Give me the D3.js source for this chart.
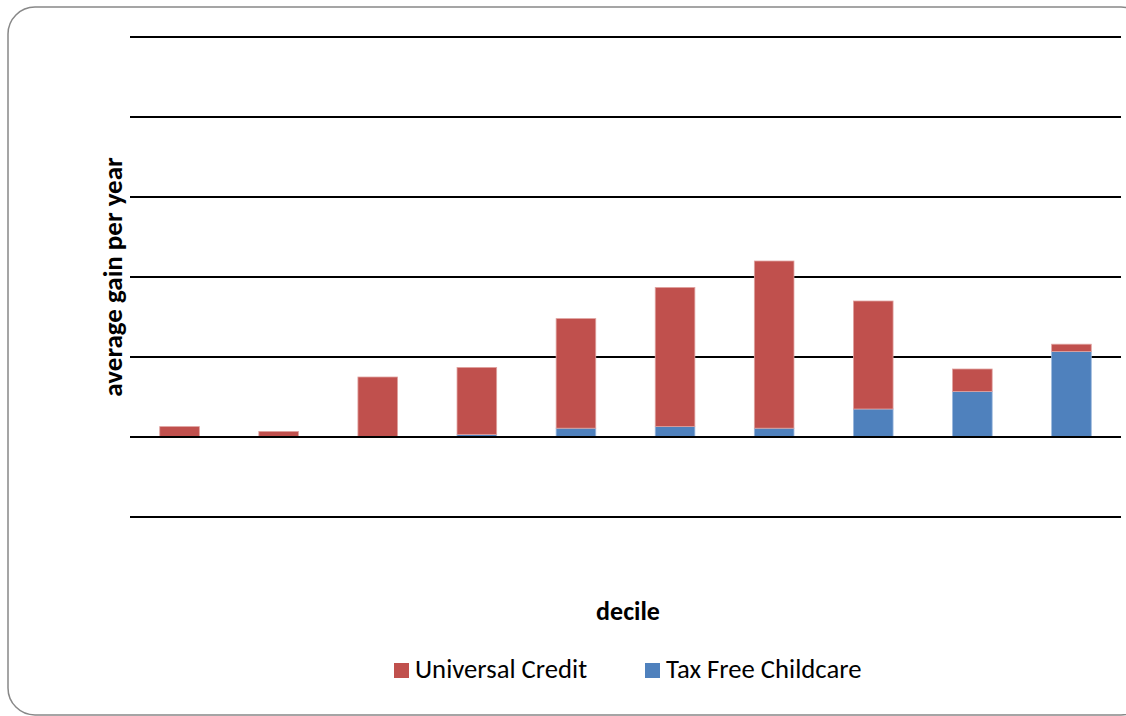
<!DOCTYPE html>
<html><head><meta charset="utf-8">
<script src="https://cdn.jsdelivr.net/npm/d3@7"></script>
<style>body{margin:0;background:#fff;}svg{display:block;}</style>
</head><body>
<script>
const categories = ["1","2","3","4","5","6","7","8","9","10"];
const universalCredit = [13, 7, 75, 84, 137, 174, 209, 135, 28, 9];
const taxFreeChildcare = [0, 0, 0, 3, 11, 13, 11, 35, 57, 107];
const yTicks = [-100, 0, 100, 200, 300, 400, 500];
const seriesNames = ["Universal Credit", "Tax Free Childcare"];

const W = 1126, H = 716;
const svg = d3.select("body").append("svg").attr("width", W).attr("height", H);

svg.append("rect").attr("x", 8).attr("y", 7).attr("width", 1140).attr("height", 708)
  .attr("rx", 27).attr("fill", "#fff").attr("stroke", "#888").attr("stroke-width", 1.5);

const x = d3.scaleBand().domain(categories).range([130, 1121]).paddingInner(0.6).paddingOuter(0.3);
const y = d3.scaleLinear().domain([-100, 500]).range([517, 37]);

svg.append("g").selectAll("line").data(yTicks).join("line")
  .attr("x1", 130).attr("x2", 1121)
  .attr("y1", d => Math.round(y(d))).attr("y2", d => Math.round(y(d)))
  .attr("stroke", "#000").attr("stroke-width", 2);

const rows = categories.map((c, i) => ({cat: c, tfc: taxFreeChildcare[i], uc: universalCredit[i]}));
const stack = d3.stack().keys(["tfc", "uc"])(rows);
const colors = {tfc: "#4F81BD", uc: "#C0504D"};
const edge = {tfc: "#9ab7dc", uc: "#e0a3a1"};

stack.forEach(layer => {
  svg.append("g").selectAll("rect").data(layer.filter(d => d[1] - d[0] > 0)).join("rect")
    .attr("x", d => x(d.data.cat))
    .attr("width", x.bandwidth())
    .attr("y", d => y(d[1]))
    .attr("height", d => y(d[0]) - y(d[1]))
    .attr("fill", colors[layer.key])
    .attr("stroke", edge[layer.key]).attr("stroke-width", 0.8);
});

svg.append("line").attr("x1", 130).attr("x2", 1121).attr("y1", Math.round(y(0))).attr("y2", Math.round(y(0)))
  .attr("stroke", "#000").attr("stroke-width", 2);

const font = "Carlito, Calibri, 'Open Sans', sans-serif";
svg.append("text").attr("transform", "translate(122,277) rotate(-90)")
  .attr("text-anchor", "middle").attr("font-family", font).attr("font-weight", "bold")
  .attr("font-size", 27).attr("fill", "#000").text("average gain per year");

svg.append("text").attr("x", 628).attr("y", 620).attr("text-anchor", "middle")
  .attr("font-family", font).attr("font-weight", "bold").attr("font-size", 26).attr("fill", "#000").text("decile");

const legend = [{name: seriesNames[0], color: colors.uc, x: 394}, {name: seriesNames[1], color: colors.tfc, x: 645}];
const lg = svg.append("g").selectAll("g").data(legend).join("g");
lg.append("rect").attr("x", d => d.x).attr("y", 663).attr("width", 15).attr("height", 15).attr("fill", d => d.color);
lg.append("text").attr("x", d => d.x + 21).attr("y", 678).attr("font-family", font).attr("font-size", 26.7)
  .attr("fill", "#000").text(d => d.name);
</script>
</body></html>
